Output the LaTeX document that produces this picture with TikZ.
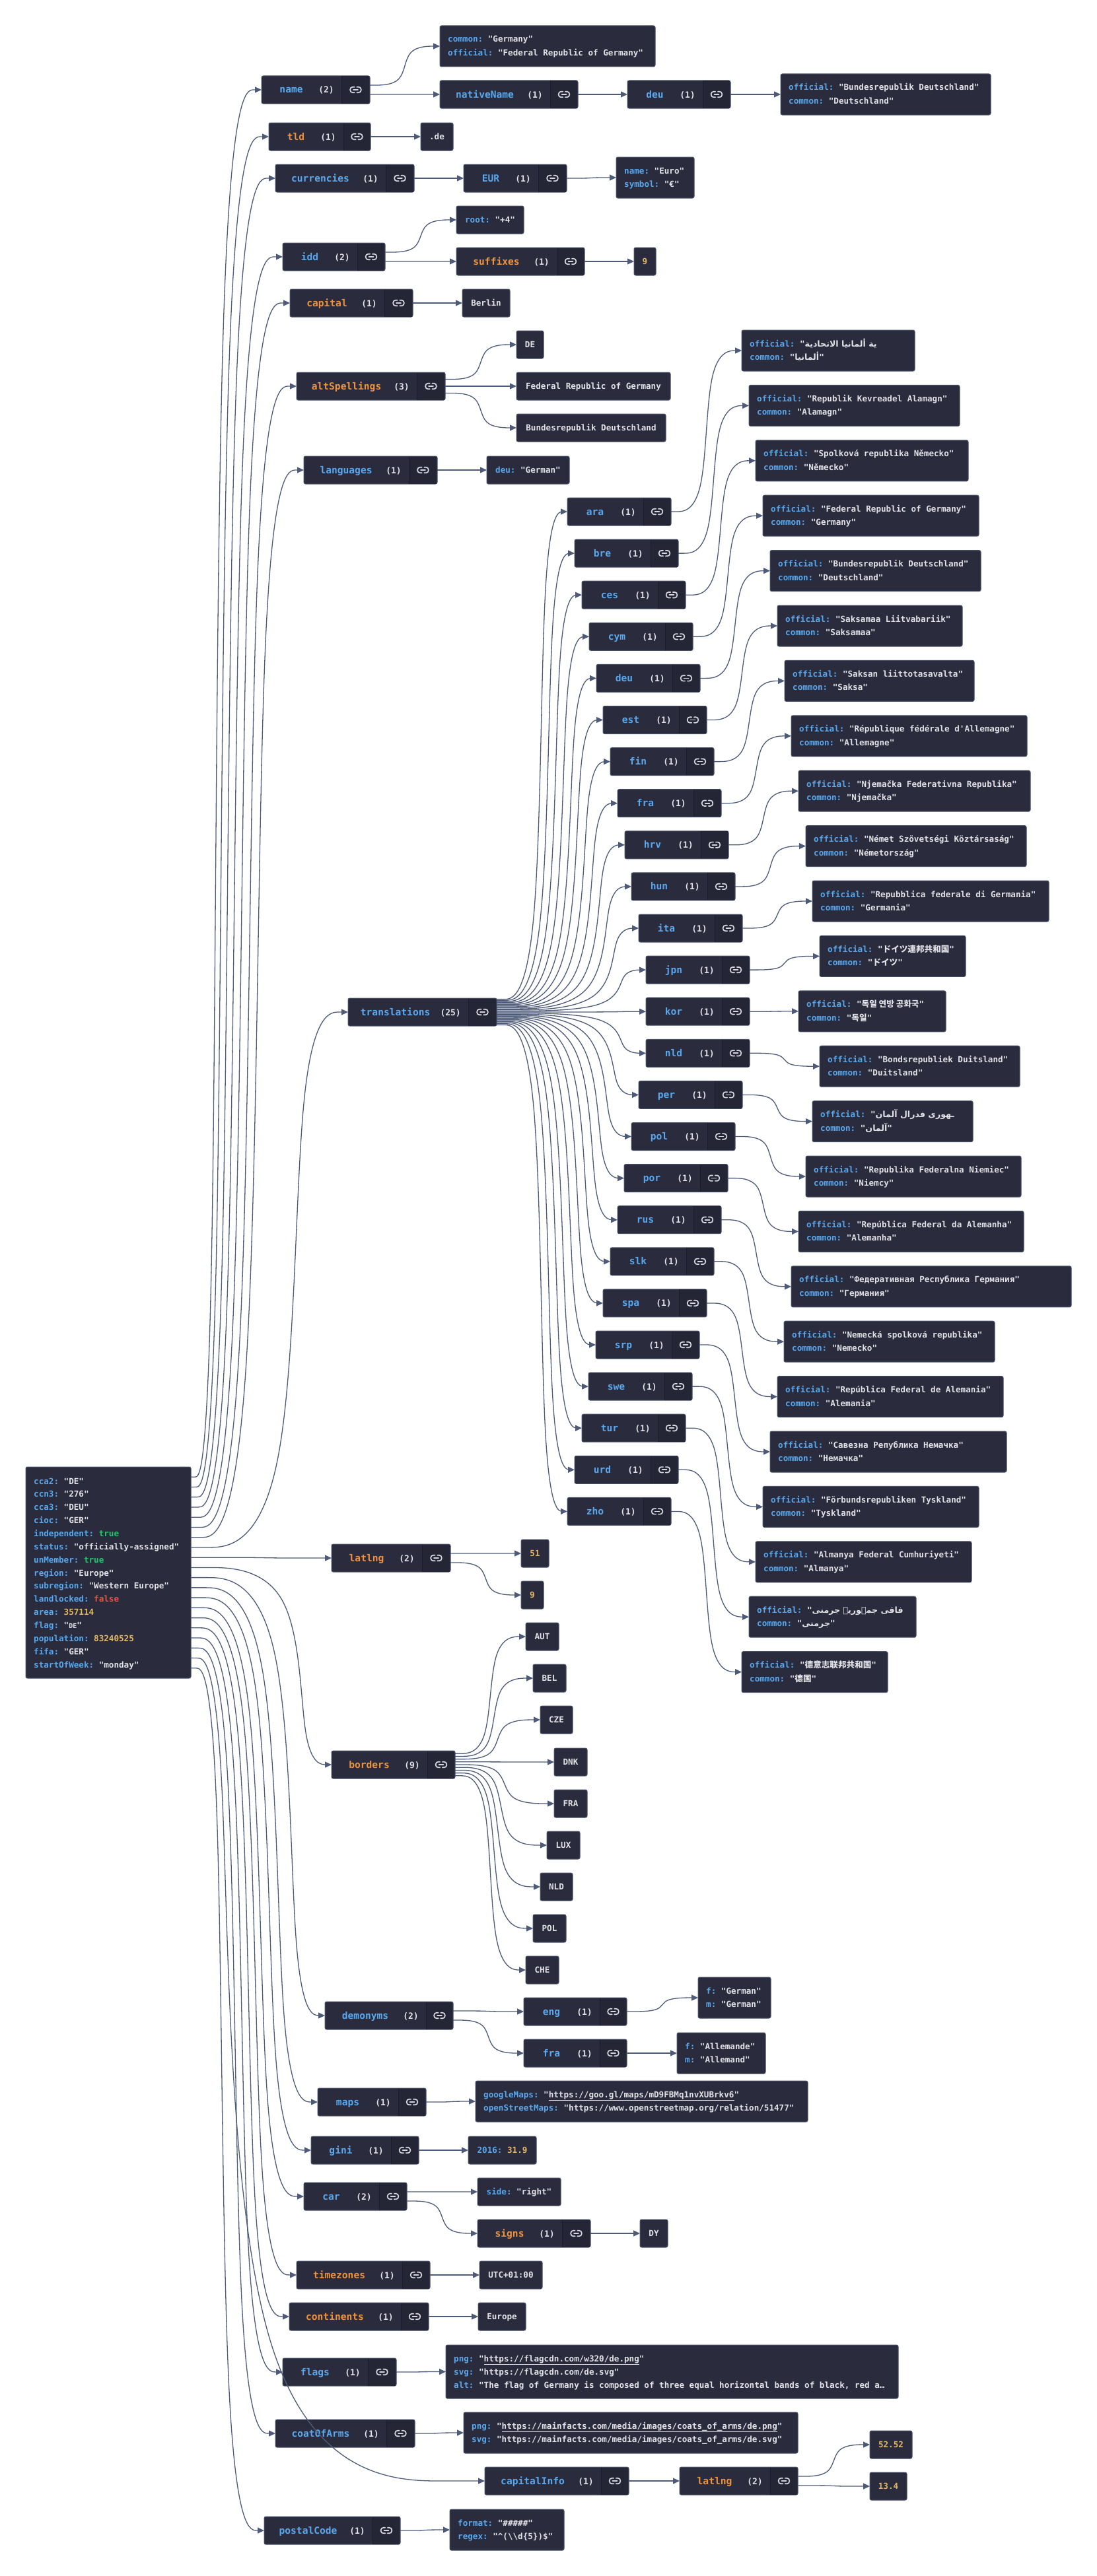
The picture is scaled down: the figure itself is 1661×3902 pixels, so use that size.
\documentclass[tikz,border=0pt]{standalone}
\usepackage{fontspec}
\setmonofont{DejaVu Sans Mono}
\newfontfamily\arabicfont[Script=Arabic]{DejaVu Sans}
\newfontfamily\krfont{Noto Sans CJK KR}
\newfontfamily\jpfont{Noto Sans CJK JP}
\newfontfamily\scfont{Noto Sans CJK SC}
\TeXXeTstate=1
\usetikzlibrary{calc,arrows.meta}

\definecolor{boxfill}{RGB}{42,44,62}
\definecolor{boxline}{RGB}{72,81,104}
\definecolor{cellcol}{RGB}{36,38,54}
\definecolor{divcol}{RGB}{28,29,43}
\definecolor{edgecol}{RGB}{78,91,120}
\definecolor{keyblue}{RGB}{89,168,238}
\definecolor{keyorange}{RGB}{240,146,60}
\definecolor{strcol}{RGB}{226,226,230}
\definecolor{numcol}{RGB}{228,184,98}
\definecolor{truecol}{RGB}{34,200,110}
\definecolor{falsecol}{RGB}{229,83,75}
\definecolor{iconcol}{RGB}{214,214,222}

\tikzset{
  x=1pt, y=-1pt,
  box/.style={draw=boxline, fill=boxfill, line width=1pt, rectangle, rounded corners=2.5pt, inner sep=0pt, outer sep=0pt},
  conn/.style={draw=edgecol, line width=1.3pt, -{Triangle[length=10pt,width=9pt]}},
  vt/.style={inner sep=0pt, text=strcol, font=\ttfamily\bfseries\fontsize{12.6}{15}\selectfont},
  kb/.style={inner sep=0pt, text=keyblue, font=\ttfamily\bfseries\fontsize{14.6}{17}\selectfont},
  ko/.style={inner sep=0pt, text=keyorange, font=\ttfamily\bfseries\fontsize{14.6}{17}\selectfont},
  cnt/.style={inner sep=0pt, text=strcol, font=\ttfamily\bfseries\fontsize{13}{16}\selectfont},
  iconln/.style={draw=iconcol, line width=1.7pt, line cap=round},
  divider/.style={draw=divcol, line width=1pt},
}

% value colouring
\newcommand\jk[1]{\textcolor{keyblue}{#1}}
\newcommand\jn[1]{\textcolor{numcol}{#1}}
\newcommand\jt[1]{\textcolor{truecol}{#1}}
\newcommand\jf[1]{\textcolor{falsecol}{#1}}
\newcommand\ar[1]{{\arabicfont\beginR #1\endR}}

% chain-link glyph of a key box
\newcommand\linkicon[3]{%
  \pgfmathsetmacro\lcx{#2}\pgfmathsetmacro\lcy{#3}%
  \coordinate (#1) at (\lcx,\lcy);
  \draw[iconln,rounded corners=3.5pt] (\lcx-1.8,\lcy-4.2) -- (\lcx-8.2,\lcy-4.2) -- (\lcx-8.2,\lcy+4.2) -- (\lcx-1.8,\lcy+4.2);
  \draw[iconln,rounded corners=3.5pt] (\lcx+1.8,\lcy-4.2) -- (\lcx+8.2,\lcy-4.2) -- (\lcx+8.2,\lcy+4.2) -- (\lcx+1.8,\lcy+4.2);
  \draw[iconln] (\lcx-3.5,\lcy) -- (\lcx+3.5,\lcy);
}

% key box: name, x1, y1, x2, divider x, key style, key, count
\newcommand\kbox[8]{%
  \node[box,minimum width={#4-#2},minimum height=42,anchor=north west] (#1) at (#2,#3) {};
  \fill[cellcol] (#5,#3+0.5) rectangle (#4-1,#3+41.5);
  \draw[divider] (#5,#3+0.5) -- (#5,#3+41.5);
  \node[cnt,anchor=base east] (#1-n) at (#5-11,#3+26) {(#8)};
  \path let \p1=(#1-n.west) in node[#6,anchor=base] (#1-k) at ({(#2pt+\x1)/2+2pt},{-(#3+26)*1pt}) {#7};
  \linkicon{#1-i}{(#5+#4)/2}{#3+21}%
}
% one-line value box: name, x1, y1, x2, text
\newcommand\obox[5]{%
  \node[box,minimum width={#4-#2},minimum height=42,anchor=north west] (#1) at (#2,#3) {};
  \node[vt,anchor=base] (#1-t) at ({(#2+#4)/2},#3+25.5) {#5};
}
% two-line value box: name, x1, y1, x2, line 1, line 2
\newcommand\tbox[6]{%
  \node[box,minimum width={#4-#2},minimum height=62,anchor=north west] (#1) at (#2,#3) {};
  \node[vt,anchor=base west] (#1-a) at (#2+12,#3+25) {#5};
  \node[vt,anchor=base west] (#1-b) at (#2+12,#3+45.5) {#6};
}

% smoothed orthogonal connector: from, to, x of the vertical run
\newcommand\edgeb[3]{%
  \draw[conn] let \p1=(#1), \p2=(#2), \n1={#3} in
    (\p1) -- ({\x1+(\n1-\x1)/6},\y1)
    .. controls ({\x1+(\n1-\x1)/3},\y1) and ({\x1+0.666667*(\n1-\x1)},\y1)
    .. ({\x1+0.833333*(\n1-\x1)},{\y1+(\y2-\y1)/6})
    .. controls ({\n1*1pt},{\y1+(\y2-\y1)/3}) and ({\n1*1pt},{\y1+0.666667*(\y2-\y1)})
    .. ({\n1+(\x2-\n1)/6},{\y1+0.833333*(\y2-\y1)})
    .. controls ({\n1+(\x2-\n1)/3},\y2) and ({\n1+0.666667*(\x2-\n1)},\y2)
    .. ({\n1+0.833333*(\x2-\n1)},\y2) -- (\p2);}
\newcommand\midx{(\x1+\x2)/2}
% port i of n on the right side of a parent
\newcommand\pedge[5]{\edgeb{$(#1.north east)!{#2/(#3+1)}!(#1.south east)$}{#4.west}{#5}}
\newcommand\cedge[2]{\edgeb{#1.east}{#2.west}{\midx}}

\begin{document}
\begin{tikzpicture}
\useasboundingbox (0,0) rectangle (1661,3902);
\fill[white] (0,0) rectangle (1661,3902);

% ---------- root object ----------
\node[box,minimum width=250,minimum height=320,anchor=north west] (root) at (39,2222) {};
\node[vt,anchor=base west] (r01) at (51,2248.0) {\jk{cca2:} "DE"};
\node[vt,anchor=base west] (r02) at (51,2267.9) {\jk{ccn3:} "276"};
\node[vt,anchor=base west] (r03) at (51,2287.7) {\jk{cca3:} "DEU"};
\node[vt,anchor=base west] (r04) at (51,2307.6) {\jk{cioc:} "GER"};
\node[vt,anchor=base west] (r05) at (51,2327.4) {\jk{independent:} \jt{true}};
\node[vt,anchor=base west] (r06) at (51,2347.3) {\jk{status:} "officially-assigned"};
\node[vt,anchor=base west] (r07) at (51,2367.2) {\jk{unMember:} \jt{true}};
\node[vt,anchor=base west] (r08) at (51,2387.0) {\jk{region:} "Europe"};
\node[vt,anchor=base west] (r09) at (51,2406.9) {\jk{subregion:} "Western Europe"};
\node[vt,anchor=base west] (r10) at (51,2426.7) {\jk{landlocked:} \jf{false}};
\node[vt,anchor=base west] (r11) at (51,2446.6) {\jk{area:} \jn{357114}};
\node[vt,anchor=base west] (r12) at (51,2466.5) {\jk{flag:} "{\fontsize{10}{12}\selectfont DE}"};
\node[vt,anchor=base west] (r13) at (51,2486.3) {\jk{population:} \jn{83240525}};
\node[vt,anchor=base west] (r14) at (51,2506.2) {\jk{fifa:} "GER"};
\node[vt,anchor=base west] (r15) at (51,2526.0) {\jk{startOfWeek:} "monday"};

% ---------- first level ----------
\kbox{kname}{396}{115}{560}{517}{kb}{name}{2}
\tbox{vname}{666}{39}{992}{\jk{common:} "Germany"}{\jk{official:} "Federal Republic of Germany"}
\kbox{knative}{666}{122}{875}{833}{kb}{nativeName}{1}
\kbox{kdeuN}{950}{122}{1106}{1064}{kb}{deu}{1}
\tbox{vdeuN}{1182}{112}{1500}{\jk{official:} "Bundesrepublik Deutschland"}{\jk{common:} "Deutschland"}

\kbox{ktld}{407}{186}{561}{520}{ko}{tld}{1}
\obox{vdotde}{637}{186}{686}{.de}

\kbox{kcur}{417}{249}{627}{584}{kb}{currencies}{1}
\kbox{keur}{702}{249}{858}{815}{kb}{EUR}{1}
\tbox{veur}{933}{238}{1051}{\jk{name:} "Euro"}{\jk{symbol:} "€"}

\kbox{kidd}{428}{368}{583}{541}{kb}{idd}{2}
\obox{vroot}{691}{312}{793}{\jk{root:} "+4"}
\kbox{ksuf}{691}{375}{885}{843}{ko}{suffixes}{1}
\obox{vsuf}{960}{375}{993}{\jn{9}}

\kbox{kcap}{439}{438}{625}{582}{ko}{capital}{1}
\obox{vberlin}{700}{438}{772}{Berlin}

\kbox{kalt}{449}{564}{674}{631}{ko}{altSpellings}{3}
\obox{valt1}{782}{501}{823}{DE}
\obox{valt2}{782}{564}{1015}{Federal Republic of Germany}
\obox{valt3}{782}{627}{1008}{Bundesrepublik Deutschland}

\kbox{klang}{460}{691}{662}{619}{kb}{languages}{1}
\obox{vlang}{737}{691}{862}{\jk{deu:} "German"}

% ---------- translations ----------
\kbox{ktrans}{527}{1512}{752}{709}{kb}{translations}{25}

\kbox{tk-ara}{859}{754}{1016}{974}{kb}{ara}{1}
\kbox{tk-bre}{870}{817.1}{1027}{985}{kb}{bre}{1}
\kbox{tk-ces}{881}{880.2}{1038}{996}{kb}{ces}{1}
\kbox{tk-cym}{892}{943.3}{1049}{1007}{kb}{cym}{1}
\kbox{tk-deu}{903}{1006.4}{1060}{1018}{kb}{deu}{1}
\kbox{tk-est}{913}{1069.5}{1070}{1028}{kb}{est}{1}
\kbox{tk-fin}{924}{1132.6}{1081}{1039}{kb}{fin}{1}
\kbox{tk-fra}{935}{1195.7}{1092}{1050}{kb}{fra}{1}
\kbox{tk-hrv}{946}{1258.8}{1103}{1061}{kb}{hrv}{1}
\kbox{tk-hun}{956}{1321.9}{1113}{1071}{kb}{hun}{1}
\kbox{tk-ita}{967}{1385}{1124}{1082}{kb}{ita}{1}
\kbox{tk-jpn}{978}{1448.1}{1135}{1093}{kb}{jpn}{1}
\kbox{tk-kor}{978}{1511.2}{1135}{1093}{kb}{kor}{1}
\kbox{tk-nld}{978}{1574.3}{1135}{1093}{kb}{nld}{1}
\kbox{tk-per}{967}{1637.4}{1124}{1082}{kb}{per}{1}
\kbox{tk-pol}{956}{1700.5}{1113}{1071}{kb}{pol}{1}
\kbox{tk-por}{945}{1763.6}{1102}{1060}{kb}{por}{1}
\kbox{tk-rus}{935}{1826.7}{1092}{1050}{kb}{rus}{1}
\kbox{tk-slk}{924}{1889.8}{1081}{1039}{kb}{slk}{1}
\kbox{tk-spa}{913}{1952.9}{1070}{1028}{kb}{spa}{1}
\kbox{tk-srp}{902}{2016}{1059}{1017}{kb}{srp}{1}
\kbox{tk-swe}{891}{2079.1}{1048}{1006}{kb}{swe}{1}
\kbox{tk-tur}{881}{2142.2}{1038}{996}{kb}{tur}{1}
\kbox{tk-urd}{870}{2205.3}{1027}{985}{kb}{urd}{1}
\kbox{tk-zho}{859}{2268.4}{1016}{974}{kb}{zho}{1}

\tbox{tv-ara}{1123}{500}{1385}{\jk{official:} "\ar{ية ألمانيا الاتحادية}}{\jk{common:} "\ar{ألمانيا}"}
\tbox{tv-bre}{1134}{583.4}{1453}{\jk{official:} "Republik Kevreadel Alamagn"}{\jk{common:} "Alamagn"}
\tbox{tv-ces}{1144}{666.8}{1466}{\jk{official:} "Spolková republika Německo"}{\jk{common:} "Německo"}
\tbox{tv-cym}{1155}{750.2}{1482}{\jk{official:} "Federal Republic of Germany"}{\jk{common:} "Germany"}
\tbox{tv-deu}{1166}{833.6}{1485}{\jk{official:} "Bundesrepublik Deutschland"}{\jk{common:} "Deutschland"}
\tbox{tv-est}{1177}{917}{1457}{\jk{official:} "Saksamaa Liitvabariik"}{\jk{common:} "Saksamaa"}
\tbox{tv-fin}{1188}{1000.4}{1475}{\jk{official:} "Saksan liittotasavalta"}{\jk{common:} "Saksa"}
\tbox{tv-fra}{1198}{1083.8}{1555}{\jk{official:} "République fédérale d\textquotesingle Allemagne"}{\jk{common:} "Allemagne"}
\tbox{tv-hrv}{1209}{1167.2}{1560}{\jk{official:} "Njemačka Federativna Republika"}{\jk{common:} "Njemačka"}
\tbox{tv-hun}{1220}{1250.6}{1554}{\jk{official:} "Német Szövetségi Köztársaság"}{\jk{common:} "Németország"}
\tbox{tv-ita}{1230}{1334}{1588}{\jk{official:} "Repubblica federale di Germania"}{\jk{common:} "Germania"}
\tbox{tv-jpn}{1241}{1417.4}{1462}{\jk{official:} "{\jpfont ドイツ連邦共和国}"}{\jk{common:} "{\jpfont ドイツ}"}
\tbox{tv-kor}{1209}{1500.8}{1432}{\jk{official:} "{\krfont 독일 연방 공화국}"}{\jk{common:} "{\krfont 독일}"}
\tbox{tv-nld}{1241}{1584.2}{1544}{\jk{official:} "Bondsrepubliek Duitsland"}{\jk{common:} "Duitsland"}
\tbox{tv-per}{1230}{1667.6}{1473}{\jk{official:} "\ar{ـهوری فدرال آلمان}}{\jk{common:} "\ar{آلمان}"}
\tbox{tv-pol}{1220}{1751}{1546}{\jk{official:} "Republika Federalna Niemiec"}{\jk{common:} "Niemcy"}
\tbox{tv-por}{1209}{1834.4}{1550}{\jk{official:} "República Federal da Alemanha"}{\jk{common:} "Alemanha"}
\tbox{tv-rus}{1198}{1917.8}{1622}{\jk{official:} "Федеративная Республика Германия"}{\jk{common:} "Германия"}
\tbox{tv-slk}{1187}{2001.2}{1506}{\jk{official:} "Nemecká spolková republika"}{\jk{common:} "Nemecko"}
\tbox{tv-spa}{1177}{2084.6}{1519}{\jk{official:} "República Federal de Alemania"}{\jk{common:} "Alemania"}
\tbox{tv-srp}{1166}{2168}{1524}{\jk{official:} "Савезна Република Немачка"}{\jk{common:} "Немачка"}
\tbox{tv-swe}{1155}{2251.4}{1482}{\jk{official:} "Förbundsrepubliken Tyskland"}{\jk{common:} "Tyskland"}
\tbox{tv-tur}{1144}{2334.8}{1471}{\jk{official:} "Almanya Federal Cumhuriyeti"}{\jk{common:} "Almanya"}
\tbox{tv-urd}{1134}{2418.2}{1387}{\jk{official:} "\ar{فاقی جمہوریہ جرمنی}}{\jk{common:} "\ar{جرمنی}"}
\tbox{tv-zho}{1123}{2501.6}{1344}{\jk{official:} "{\scfont 德意志联邦共和国}"}{\jk{common:} "{\scfont 德国}"}

% ---------- latlng and borders ----------
\kbox{klatlng}{502}{2339}{682}{639}{ko}{latlng}{2}
\obox{v51}{789}{2332}{831}{\jn{51}}
\obox{v9}{789}{2395}{823}{\jn{9}}

\kbox{kborders}{502}{2652}{689}{647}{ko}{borders}{9}
\obox{bAUT}{796}{2458}{846}{AUT}
\obox{bBEL}{807}{2521}{857}{BEL}
\obox{bCZE}{818}{2584}{867}{CZE}
\obox{bDNK}{839}{2648}{889}{DNK}
\obox{bFRA}{839}{2711}{889}{FRA}
\obox{bLUX}{828}{2774}{878}{LUX}
\obox{bNLD}{818}{2837}{867}{NLD}
\obox{bPOL}{807}{2900}{857}{POL}
\obox{bCHE}{796}{2963}{846}{CHE}

% ---------- lower part ----------
\kbox{kdem}{492}{3032}{686}{645}{kb}{demonyms}{2}
\kbox{keng}{793}{3026}{949}{908}{kb}{eng}{1}
\kbox{kfraD}{793}{3089}{949}{908}{kb}{fra}{1}
\tbox{veng}{1057}{2995}{1167}{\jk{f:} "German"}{\jk{m:} "German"}
\tbox{vfraD}{1025}{3079}{1159}{\jk{f:} "Allemande"}{\jk{m:} "Allemand"}

\kbox{kmaps}{481}{3163}{645}{603}{kb}{maps}{1}
\tbox{vmaps}{720}{3152}{1223}{\jk{googleMaps:} "\underline{https://goo.gl/maps/mD9FBMq1nvXUBrkv6}"}{\jk{openStreetMaps:} "https://www.openstreetmap.org/relation/51477"}

\kbox{kgini}{471}{3236}{634}{592}{kb}{gini}{1}
\obox{vgini}{709}{3236}{812}{\jk{2016:} \jn{31.9}}

\kbox{kcar}{460}{3306}{616}{574}{kb}{car}{2}
\obox{vside}{723}{3299}{849}{\jk{side:} "right"}
\kbox{ksigns}{723}{3362}{894}{851}{ko}{signs}{1}
\obox{vdy}{969}{3362}{1011}{DY}

\kbox{ktz}{449}{3425}{651}{609}{ko}{timezones}{1}
\obox{vutc}{726}{3425}{821}{UTC+01:00}

\kbox{kcont}{438}{3488}{649}{607}{ko}{continents}{1}
\obox{veurope}{724}{3488}{796}{Europe}

\kbox{kflags}{428}{3572}{600}{557}{kb}{flags}{1}
\node[box,minimum width=685,minimum height=81,anchor=north west] (vflags) at (675,3552) {};
\node[vt,anchor=base west] (vflags-a) at (687,3577.5) {\jk{png:} "\underline{https://flagcdn.com/w320/de.png}"};
\node[vt,anchor=base west] (vflags-b) at (687,3597.5) {\jk{svg:} "https://flagcdn.com/de.svg"};
\node[vt,anchor=base west] (vflags-c) at (687,3617) {\jk{alt:} "The flag of Germany is composed of three equal horizontal bands of black, red a…};

\kbox{kcoa}{417}{3665}{628}{585}{kb}{coatOfArms}{1}
\tbox{vcoa}{702}{3654}{1208}{\jk{png:} "\underline{https://mainfacts.com/media/images/coats\_of\_arms/de.png}"}{\jk{svg:} "https://mainfacts.com/media/images/coats\_of\_arms/de.svg"}

\kbox{kcapinfo}{734}{3737}{952}{910}{kb}{capitalInfo}{1}
\kbox{kll2}{1029}{3737}{1208}{1166}{ko}{latlng}{2}
\obox{v5252}{1317}{3682}{1381}{\jn{52.52}}
\obox{v134}{1317}{3745}{1373}{\jn{13.4}}

\kbox{kpost}{400}{3812}{606}{564}{kb}{postalCode}{1}
\tbox{vpost}{681}{3801}{854}{\jk{format:} "\#\#\#\#\#"}{\jk{regex:} "\textasciicircum(\textbackslash\textbackslash d\{5\})\$"}

% ---------- connectors ----------
\pedge{root}{1}{20}{kname}{327}
\pedge{root}{2}{20}{ktld}{335}
\pedge{root}{3}{20}{kcur}{345}
\pedge{root}{4}{20}{kidd}{355}
\pedge{root}{5}{20}{kcap}{366}
\pedge{root}{6}{20}{kalt}{378}
\pedge{root}{7}{20}{klang}{390}
\pedge{root}{8}{20}{ktrans}{447}
\pedge{root}{9}{20}{klatlng}{400}
\pedge{root}{10}{20}{kborders}{455}
\pedge{root}{11}{20}{kdem}{440}
\pedge{root}{12}{20}{kmaps}{420}
\pedge{root}{13}{20}{kgini}{407}
\pedge{root}{14}{20}{kcar}{394}
\pedge{root}{15}{20}{ktz}{386}
\pedge{root}{16}{20}{kcont}{376}
\pedge{root}{17}{20}{kflags}{366}
\pedge{root}{18}{20}{kcoa}{356}
\pedge{root}{19}{20}{kcapinfo}{346}
\pedge{root}{20}{20}{kpost}{336}

\pedge{kname}{1}{2}{vname}{\midx}
\pedge{kname}{2}{2}{knative}{\midx}
\cedge{knative}{kdeuN}
\cedge{kdeuN}{vdeuN}
\cedge{ktld}{vdotde}
\cedge{kcur}{keur}
\cedge{keur}{veur}
\pedge{kidd}{1}{2}{vroot}{\midx}
\pedge{kidd}{2}{2}{ksuf}{\midx}
\cedge{ksuf}{vsuf}
\cedge{kcap}{vberlin}
\pedge{kalt}{1}{3}{valt1}{\midx}
\pedge{kalt}{2}{3}{valt2}{\midx}
\pedge{kalt}{3}{3}{valt3}{\midx}
\cedge{klang}{vlang}

\foreach \lc [count=\i] in {ara,bre,ces,cym,deu,est,fin,fra,hrv,hun,ita,jpn,kor,nld,per,pol,por,rus,slk,spa,srp,swe,tur,urd,zho}{
  \pedge{ktrans}{\i}{25}{tk-\lc}{\x2-40}
  \cedge{tk-\lc}{tv-\lc}
}

\pedge{klatlng}{1}{2}{v51}{\midx}
\pedge{klatlng}{2}{2}{v9}{\midx}
\foreach \bc [count=\i] in {AUT,BEL,CZE,DNK,FRA,LUX,NLD,POL,CHE}{
  \pedge{kborders}{\i}{9}{b\bc}{\midx}
}

\pedge{kdem}{1}{2}{keng}{\midx}
\pedge{kdem}{2}{2}{kfraD}{\midx}
\cedge{keng}{veng}
\cedge{kfraD}{vfraD}
\cedge{kmaps}{vmaps}
\cedge{kgini}{vgini}
\pedge{kcar}{1}{2}{vside}{\midx}
\pedge{kcar}{2}{2}{ksigns}{\midx}
\cedge{ksigns}{vdy}
\cedge{ktz}{vutc}
\cedge{kcont}{veurope}
\cedge{kflags}{vflags}
\cedge{kcoa}{vcoa}
\cedge{kcapinfo}{kll2}
\pedge{kll2}{1}{2}{v5252}{\midx}
\pedge{kll2}{2}{2}{v134}{\midx}
\cedge{kpost}{vpost}
\end{tikzpicture}
\end{document}
